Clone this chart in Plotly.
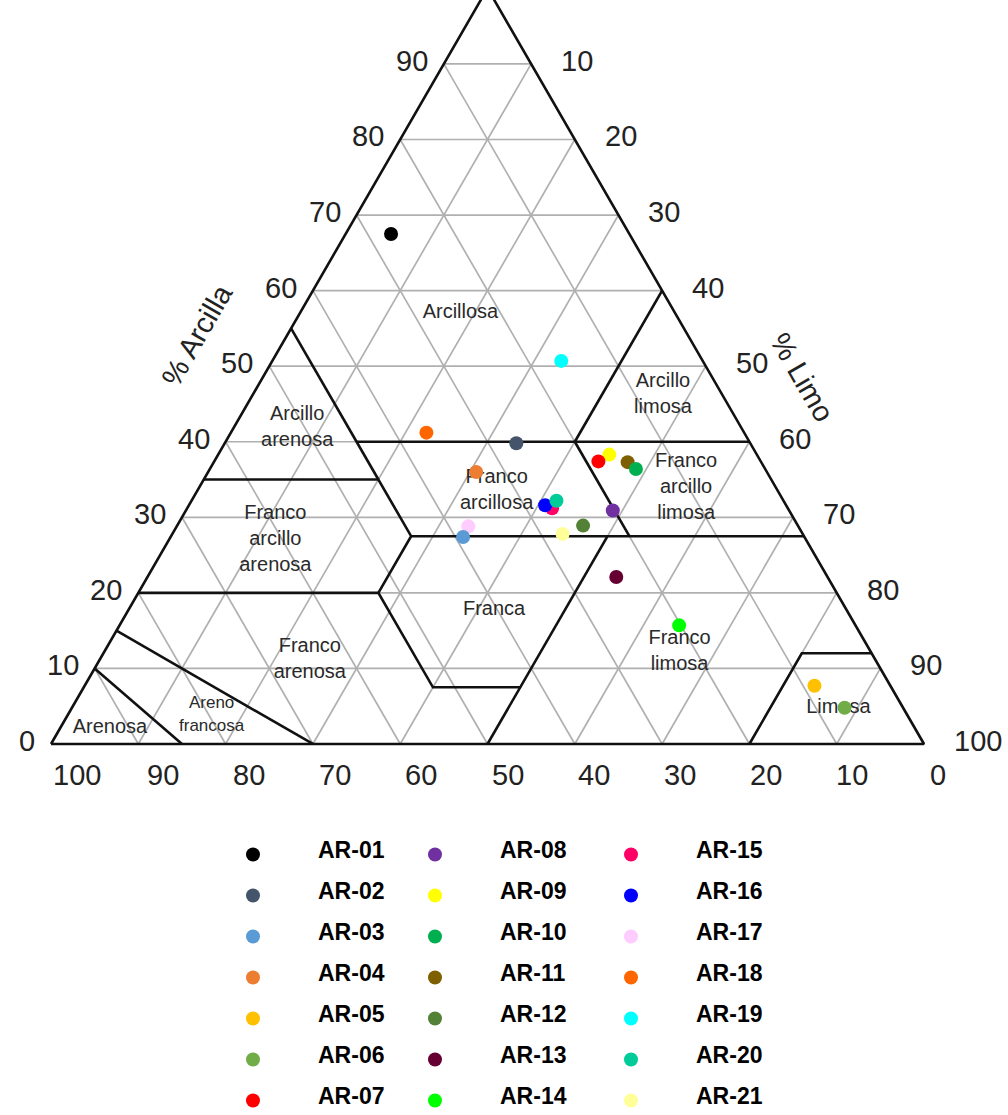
import plotly.graph_objects as go

# ---------------- data ----------------
muestras = ["AR-01", "AR-02", "AR-03", "AR-04", "AR-05", "AR-06", "AR-07",
            "AR-08", "AR-09", "AR-10", "AR-11", "AR-12", "AR-13", "AR-14",
            "AR-15", "AR-16", "AR-17", "AR-18", "AR-19", "AR-20", "AR-21"]
arcilla = [67.5, 39.8, 27.4, 36.0, 7.7, 4.8, 37.4,
           30.9, 38.3, 36.4, 37.3, 28.9, 22.1, 15.7,
           31.2, 31.6, 28.8, 41.2, 50.7, 32.2, 27.8]
limo = [5.2, 33.4, 33.5, 30.7, 83.6, 88.5, 44.0,
        48.9, 44.8, 48.8, 47.4, 46.5, 53.7, 64.1,
        41.8, 40.8, 33.4, 22.4, 33.1, 41.8, 44.7]
arena = [27.3, 26.8, 39.1, 33.3, 8.7, 6.7, 18.6,
         20.2, 16.9, 14.8, 15.3, 24.6, 24.2, 20.2,
         27.0, 27.6, 37.8, 36.4, 16.2, 26.0, 27.5]
colores = ["#000000", "#44546A", "#5B9BD5", "#ED7D31", "#FFC000", "#70AD47", "#FF0000",
           "#7030A0", "#FFFF00", "#00B050", "#7F6000", "#538135", "#660033", "#00FF00",
           "#FF0066", "#0000FF", "#FFCCFF", "#FF6600", "#00FFFF", "#00CC99", "#FFFF99"]
# drawing order (1-based sample numbers; later ones are drawn on top)
orden_dibujo = [17, 3, 15, 16, 20, 9, 7, 11, 10, 1, 2, 4, 5, 6, 8, 12, 13, 14, 18, 19, 21]

ticks = [0, 10, 20, 30, 40, 50, 60, 70, 80, 90, 100]

# USDA class boundaries as (arena, limo, arcilla) polylines
limites = [
    [(100, 0, 0), (0, 0, 100), (0, 100, 0), (100, 0, 0)],
    [(85, 15, 0), (90, 0, 10)],
    [(70, 30, 0), (85, 0, 15)],
    [(80, 0, 20), (52.5, 27.5, 20), (52.5, 40, 7.5), (42.5, 50, 7.5)],
    [(50, 50, 0), (22.5, 50, 27.5)],
    [(65, 0, 35), (45, 20, 35), (45, 27.5, 27.5), (52.5, 27.5, 20)],
    [(45, 0, 55), (45, 20, 35)],
    [(45, 15, 40), (0, 60, 40)],
    [(45, 27.5, 27.5), (0, 72.5, 27.5)],
    [(20, 40, 40), (20, 52.5, 27.5)],
    [(0, 40, 60), (20, 40, 40)],
    [(20, 80, 0), (8, 80, 12), (0, 88, 12)],
]

# class names with label anchor (arcilla, limo)
clases = ["Arcillosa", "Arcillo<br>limosa", "Arcillo<br>arenosa", "Franco<br>arcillosa",
          "Franco<br>arcillo<br>limosa", "Franco<br>arcillo<br>arenosa", "Franca",
          "Franco<br>limosa", "Franco<br>arenosa", "Areno<br>francosa", "Arenosa", "Limosa"]
clase_arcilla = [57.0, 46.2, 41.8, 33.5, 33.9, 27.0, 17.7, 12.2, 11.1, 3.8, 2.1, 4.8]
clase_limo = [18.4, 47.0, 7.3, 34.3, 55.8, 12.2, 41.9, 65.9, 24.1, 16.5, 5.7, 87.8]
clase_size = [20, 20, 20, 20, 20, 20, 20, 20, 20, 17, 20, 20]


def to_xy(cl, si):
    """ternary (arcilla, limo) -> cartesian chart units"""
    return si + cl / 2.0, cl


fig = go.Figure()

# grid lines every 10 %
gx, gy = [], []
for v in ticks[1:-1]:
    for (c1, s1), (c2, s2) in [((v, 0), (v, 100 - v)),           # arcilla const
                               ((0, 100 - v), (100 - v, 0)),       # arena const
                               ((0, v), (100 - v, v))]:            # limo const
        x1, y1 = to_xy(c1, s1)
        x2, y2 = to_xy(c2, s2)
        gx += [x1, x2, None]
        gy += [y1, y2, None]
fig.add_trace(go.Scatter(x=gx, y=gy, mode="lines",
                         line=dict(color="#b0b0b0", width=1.7),
                         hoverinfo="skip", showlegend=False))

# class boundaries
bx, by = [], []
for poly in limites:
    for (a, s, c) in poly:
        x, y = to_xy(c, s)
        bx.append(x)
        by.append(y)
    bx.append(None)
    by.append(None)
fig.add_trace(go.Scatter(x=bx, y=by, mode="lines",
                         line=dict(color="#111111", width=2.6),
                         hoverinfo="skip", showlegend=False))

# class names
lx = [to_xy(c, s)[0] for c, s in zip(clase_arcilla, clase_limo)]
ly = [to_xy(c, s)[1] for c, s in zip(clase_arcilla, clase_limo)]
fig.add_trace(go.Scatter(x=lx, y=ly, mode="text", text=clases,
                         textposition="middle center",
                         textfont=dict(family="Liberation Sans, Arial", size=clase_size,
                                       color="#2a2a2a"),
                         hoverinfo="skip", showlegend=False))

# samples
for n in orden_dibujo:
    i = n - 1
    nm = muestras[i]
    x, y = to_xy(arcilla[i], limo[i])
    fig.add_trace(go.Scatter(
        x=[x], y=[y], mode="markers",
        name="<b><span style='font-size:23px'>" + nm + "</span></b>",
        legendgroup=nm, legendrank=i + 1,
        legend=["legend", "legend2", "legend3"][i // 7],
        marker=dict(color=colores[i], size=14, line=dict(width=0)),
        customdata=[[arena[i], limo[i], arcilla[i]]],
        hovertemplate=nm + "<br>Arena %{customdata[0]}%<br>Limo %{customdata[1]}%"
                      "<br>Arcilla %{customdata[2]}%<extra></extra>"))

tick_font = dict(family="Liberation Sans, Arial", size=29, color="#222222")
ann = []
for v in ticks[:-1]:  # left: arcilla
    x, y = to_xy(v, 0)
    ann.append(dict(x=x, y=y, xref="x", yref="y", text=str(v), showarrow=False,
                    xanchor="right", yanchor="middle", xshift=-14, yshift=3, font=tick_font))
for v in ticks:  # bottom: arena
    x, y = to_xy(0, 100 - v)
    ann.append(dict(x=x, y=y, xref="x", yref="y", text=str(v), showarrow=False,
                    xanchor="center", yanchor="middle", xshift=14 + 0.12 * v, yshift=-31,
                    font=tick_font))
for v in ticks[1:]:  # right: limo
    x, y = to_xy(100 - v, v)
    ann.append(dict(x=x, y=y, xref="x", yref="y", text=str(v), showarrow=False,
                    xanchor="left", yanchor="middle", xshift=28, yshift=3, font=tick_font))

W, H = 1008, 1115
ann.append(dict(x=197 / W, y=1 - 335 / H, xref="paper", yref="paper", text="% Arcilla",
                showarrow=False, textangle=-60, xanchor="center", yanchor="middle",
                font=tick_font))
ann.append(dict(x=802 / W, y=1 - 377 / H, xref="paper", yref="paper", text="% Limo",
                showarrow=False, textangle=60, xanchor="center", yanchor="middle",
                font=tick_font))

leg_font = dict(family="Liberation Sans, Arial", size=10, color="#000000", weight="bold")
leg_common = dict(yanchor="top", xanchor="left", font=leg_font, bgcolor="rgba(0,0,0,0)",
                  itemwidth=120, tracegroupgap=22, orientation="v", itemclick=False,
                  y=1 - 840 / H)

fig.update_layout(
    width=W, height=H,
    margin=dict(l=0, r=0, t=0, b=0),
    paper_bgcolor="white", plot_bgcolor="white",
    xaxis=dict(range=[-5.842, 109.62], visible=False, fixedrange=True),
    yaxis=dict(range=[-49.10, 98.46], visible=False, fixedrange=True),
    annotations=ann,
    legend=dict(x=188 / W, **leg_common),
    legend2=dict(x=370 / W, **leg_common),
    legend3=dict(x=566 / W, **leg_common),
    showlegend=True,
)

fig.write_html("out.html")
